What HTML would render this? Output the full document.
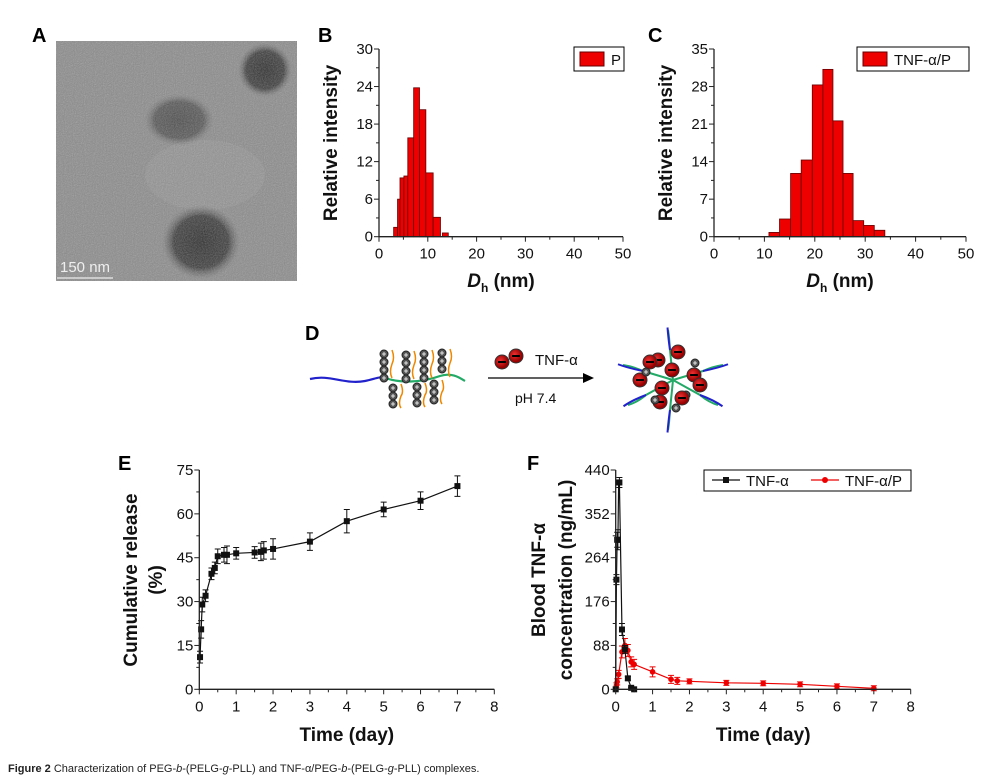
<!DOCTYPE html>
<html><head><meta charset="utf-8"><style>
body{margin:0;background:#fff;}
svg{display:block;font-family:"Liberation Sans",sans-serif;}
.tk{font-size:15px;fill:#111;}
.ti{font-size:19px;font-weight:bold;fill:#111;}
.lt{font-size:20px;font-weight:bold;fill:#000;}
</style></head><body>
<svg id="fig" width="987" height="780" viewBox="0 0 987 780" xmlns="http://www.w3.org/2000/svg">
<defs>
<filter id="noise" x="0" y="0" width="1" height="1"><feTurbulence type="fractalNoise" baseFrequency="0.9" numOctaves="2" seed="3"/><feColorMatrix type="saturate" values="0"/><feComponentTransfer><feFuncA type="table" tableValues="0 0.45"/></feComponentTransfer><feComposite in2="SourceGraphic" operator="in"/></filter>
<clipPath id="imgclip"><rect x="56" y="41" width="241" height="240"/></clipPath>
<radialGradient id="blob"><stop offset="0" stop-color="#2a2a2a"/><stop offset="0.7" stop-color="#3a3a3a"/><stop offset="1" stop-color="#6a6a6a" stop-opacity="0"/></radialGradient>
<radialGradient id="blob2"><stop offset="0" stop-color="#4a4a4a"/><stop offset="0.7" stop-color="#555"/><stop offset="1" stop-color="#777" stop-opacity="0"/></radialGradient>
<radialGradient id="prot" cx="0.4" cy="0.4"><stop offset="0" stop-color="#e33"/><stop offset="1" stop-color="#900"/></radialGradient>
</defs>

<!-- Panel A -->
<text x="32" y="42" class="lt">A</text>
<g clip-path="url(#imgclip)">
<rect x="56" y="41" width="241" height="240" fill="#8a8a8a"/>
<ellipse cx="205" cy="175" rx="60" ry="35" fill="#919191"/>
<ellipse cx="265" cy="70" rx="27" ry="27" fill="url(#blob)"/>
<ellipse cx="179" cy="120" rx="35" ry="26" fill="url(#blob2)"/>
<ellipse cx="201" cy="242" rx="39" ry="37" fill="url(#blob)"/>
<rect x="56" y="41" width="241" height="240" fill="#000" filter="url(#noise)"/>
<text x="60" y="272" font-size="15" fill="#eee">150 nm</text>
<line x1="57" y1="278" x2="113" y2="278" stroke="#ddd" stroke-width="1.5"/>
</g>

<text x="318" y="42" class="lt">B</text>
<text x="648" y="42" class="lt">C</text>
<g id="chartB"></g>
<g id="chartC"></g>

<!-- Panel D -->
<text x="305" y="340" class="lt">D</text>
<g>
<path d="M310,379 C330,374 345,385 365,381 C375,379 380,376 385,378" stroke="#22c" stroke-width="2.2" fill="none"/>
<path d="M385,378 C400,383 420,383 440,376 C452,372 460,378 465,381" stroke="#2a6" stroke-width="2.2" fill="none"/>
<g id="dleft"></g>
<line x1="488" y1="378" x2="585" y2="378" stroke="#000" stroke-width="1.3"/>
<polygon points="594,378 583,373 583,383" fill="#000"/>
<circle cx="502" cy="362" r="7" fill="url(#prot)" stroke="#333"/><rect x="498" y="361" width="8" height="2" fill="#000"/>
<circle cx="516" cy="356" r="7" fill="url(#prot)" stroke="#333"/><rect x="512" y="355" width="8" height="2" fill="#000"/>
<text x="535" y="365" font-size="15" fill="#111">TNF-α</text>
<text x="515" y="403" font-size="14" fill="#111">pH 7.4</text>
<g id="dright"></g>
</g>

<text x="118" y="470" class="lt">E</text>
<text x="527" y="470" class="lt">F</text>
<g id="chartE"></g>
<g id="chartF"></g>

<text x="8" y="772" font-size="11" fill="#222"><tspan font-weight="bold">Figure 2</tspan> Characterization of PEG-<tspan font-style="italic">b</tspan>-(PELG-<tspan font-style="italic">g</tspan>-PLL) and TNF-α/PEG-<tspan font-style="italic">b</tspan>-(PELG-<tspan font-style="italic">g</tspan>-PLL) complexes.</text>
</svg>
<script>
const binsBLeft = [3.0,3.8,4.3,5.1,5.9,7.1,8.3,9.6,11.1,13.0];
const binsBRight = [3.8,4.3,5.1,5.9,7.1,8.3,9.6,11.1,12.6,14.2];
const valsB = [1.5,6,9.4,9.7,15.8,23.8,20.3,10.2,3.1,0.6];
const ticksB = [0,6,12,18,24,30];
const binsCLeft = [10.9,13.0,15.2,17.3,19.5,21.6,23.6,25.6,27.6,29.7,31.8];
const binsCRight = [13.0,15.2,17.3,19.5,21.6,23.6,25.6,27.6,29.7,31.8,33.9];
const valsC = [0.8,3.3,11.8,14.3,28.3,31.2,21.6,11.8,3.0,2.1,1.2];
const ticksC = [0,7,14,21,28,35];
const xTicksDh = [0,10,20,30,40,50];
const timeE = [0.02,0.05,0.08,0.17,0.33,0.42,0.5,0.67,0.75,1,1.5,1.67,1.75,2,3,4,5,6,7];
const relE = [11,20.5,29,32,39.5,41.5,45.5,46,46,46.5,46.8,47,47.5,48,50.5,57.5,61.5,64.5,69.5];
const errE = [2,3,2.5,2,2,2,2.5,2.5,3,2,2,3,3,3.5,3,4,2.5,3,3.5];
const ticksE = [0,15,30,45,60,75];
const timeF1 = [0,0.02,0.04,0.06,0.08,0.1,0.17,0.25,0.33,0.42,0.5];
const concF1 = [0,220,300,300,415,415,120,80,22,3,0];
const errF1 = [0,10,15,20,0,10,12,8,4,1,0];
const timeF2 = [0.02,0.04,0.08,0.17,0.25,0.33,0.42,0.5,1,1.5,1.67,2,3,4,5,6,7];
const concF2 = [8,15,30,75,88,78,55,50,35,20,17,16,13,12,10,6,2];
const errF2 = [5,6,8,12,14,12,10,10,10,8,7,5,5,5,5,5,5];
const ticksF = [0,88,176,264,352,440];
const xTicksTime = [0,1,2,3,4,5,6,7,8];

const NS="http://www.w3.org/2000/svg";
function mk(parent,tag,attrs,text){const e=document.createElementNS(NS,tag);for(const k in attrs)e.setAttribute(k,attrs[k]);if(text!==undefined)e.textContent=text;parent.appendChild(e);return e;}
function lin(d0,d1,r0,r1){return v=>r0+(v-d0)*(r1-r0)/(d1-d0);}

function axes(g,X,Y,xt,yt,x0,x1,y0,y1){
  const ax=mk(g,'path',{d:`M${X(x0)},${Y(y1)}V${Y(y0)}H${X(x1)}`,stroke:'#222','stroke-width':1.3,fill:'none'});
  
  
  xt.forEach(v=>{mk(g,'line',{x1:X(v),x2:X(v),y1:Y(y0),y2:Y(y0)+5,stroke:'#222'});
    const t=mk(g,'text',{x:X(v),y:Y(y0)+22,'text-anchor':'middle',class:'tk'},String(v));
    
    });
  for(let i=0;i<xt.length-1;i++){const m=(xt[i]+xt[i+1])/2;mk(g,'line',{x1:X(m),x2:X(m),y1:Y(y0),y2:Y(y0)+3,stroke:'#222'});}
  yt.forEach(v=>{mk(g,'line',{x1:X(x0)-5,x2:X(x0),y1:Y(v),y2:Y(v),stroke:'#222'});
    const t=mk(g,'text',{x:X(x0)-6,y:Y(v)+5,'text-anchor':'end',class:'tk'},String(v));
    
    });
  for(let i=0;i<yt.length-1;i++){const m=(yt[i]+yt[i+1])/2;mk(g,'line',{x1:X(x0)-3,x2:X(x0),y1:Y(m),y2:Y(m),stroke:'#222'});}
}
function dhTitle(g,cx,y){
  const t=mk(g,'text',{x:cx,y:y,'text-anchor':'middle',class:'ti'});
  
  
  mk(t,'tspan',{'font-style':'italic'},'D');mk(t,'tspan',{'font-size':'12',dy:'5'},'h');mk(t,'tspan',{dy:'-5'},' (nm)');
}
function ytitle(g,x,cy,txt){
  const t=mk(g,'text',{x:0,y:0,transform:`translate(${x},${cy}) rotate(-90)`,'text-anchor':'middle',class:'ti'},txt);
  
  
}
function hist(id,L,R,V,yt,xl,xr,yt0,yb,ymax,legend,lx,lw){
  const g=document.getElementById(id);
  const X=lin(0,50,xl,xr),Y=lin(0,ymax,yb,yt0);
  V.forEach((v,i)=>{const b=mk(g,'rect',{x:X(L[i]),y:Y(v),width:X(R[i])-X(L[i]),height:Y(0)-Y(v),fill:'#ee0000',stroke:'#600','stroke-width':0.8});
    
    });
  axes(g,X,Y,xTicksDh,yt,0,50,0,ymax);
  const lg=mk(g,'g',{});
  
  
  mk(lg,'rect',{x:lx,y:47,width:lw,height:24,fill:'#fff',stroke:'#000'});
  mk(lg,'rect',{x:lx+6,y:52,width:24,height:14,fill:'#ee0000',stroke:'#600'});
  mk(lg,'text',{x:lx+37,y:65,class:'tk'},legend);
  ytitle(g,xl-42,143,'Relative intensity');
  dhTitle(g,(xl+xr)/2,287);
}
hist('chartB',binsBLeft,binsBRight,valsB,ticksB,379,623,49,236.7,30,'P',574,50);
hist('chartC',binsCLeft,binsCRight,valsC,ticksC,714,966,49,236.7,35,'TNF-α/P',857,112);

function series(g,X,Y,T,V,E,color,marker,name){
  const p=mk(g,'polyline',{points:T.map((t,i)=>X(t)+','+Y(V[i])).join(' '),fill:'none',stroke:color,'stroke-width':1.2});
  
  
  T.forEach((t,i)=>{const x=X(t);
    if(E[i]>0){mk(g,'path',{d:`M${x},${Y(V[i]-E[i])}V${Y(V[i]+E[i])}M${x-3},${Y(V[i]-E[i])}h6M${x-3},${Y(V[i]+E[i])}h6`,stroke:color,'stroke-width':1,fill:'none'});}
    let m;
    if(marker==='sq'){m=mk(g,'rect',{x:x-3,y:Y(V[i])-3,width:6,height:6,fill:color});}
    else{m=mk(g,'circle',{cx:x,cy:Y(V[i]),r:2.8,fill:color});}
    
    
  });
}
(function(){
  const g=document.getElementById('chartE');
  const X=lin(0,8,199.3,494.3),Y=lin(0,75,689.3,470);
  series(g,X,Y,timeE,relE,errE,'#111','sq','release');
  axes(g,X,Y,xTicksTime,ticksE,0,8,0,75);
  ytitle(g,137,580,'Cumulative release');
  ytitle(g,162,580,'(%)');
  const t=mk(g,'text',{x:X(4),y:741,'text-anchor':'middle',class:'ti'},'Time (day)');
  
  
})();
(function(){
  const g=document.getElementById('chartF');
  const X=lin(0,8,615.7,910.7),Y=lin(0,440,689.3,470);
  series(g,X,Y,timeF2,concF2,errF2,'#e00','dot','tnf-alpha-p');
  series(g,X,Y,timeF1,concF1,errF1,'#111','sq','tnf-alpha');
  axes(g,X,Y,xTicksTime,ticksF,0,8,0,440);
  ytitle(g,545,580,'Blood TNF-α');
  ytitle(g,572,580,'concentration (ng/mL)');
  const t=mk(g,'text',{x:X(4),y:741,'text-anchor':'middle',class:'ti'},'Time (day)');
  
  
  const lg=mk(g,'g',{});
  
  
  mk(lg,'rect',{x:704,y:470,width:207,height:21,fill:'#fff',stroke:'#000'});
  mk(lg,'line',{x1:712,x2:740,y1:480,y2:480,stroke:'#111','stroke-width':1.3});
  mk(lg,'rect',{x:723,y:477,width:6,height:6,fill:'#111'});
  mk(lg,'text',{x:746,y:486,class:'tk'},'TNF-α');
  mk(lg,'line',{x1:811,x2:839,y1:480,y2:480,stroke:'#e00','stroke-width':1.3});
  mk(lg,'circle',{cx:825,cy:480,r:3,fill:'#e00'});
  mk(lg,'text',{x:845,y:486,class:'tk'},'TNF-α/P');
})();
(function(){
  const L=document.getElementById('dleft');
  const cols=[[384,354,4],[406,355,4],[424,354,4],[442,353,3]];
  const plus=(g,x,y)=>{mk(g,'circle',{cx:x,cy:y,r:4,fill:'#555',stroke:'#222'});mk(g,'path',{d:`M${x-2},${y}h4M${x},${y-2}v4`,stroke:'#fff','stroke-width':0.8});};
  cols.forEach(c=>{for(let k=0;k<c[2];k++)plus(L,c[0],c[1]+k*8);
    mk(L,'path',{d:`M${c[0]+8},${c[1]-4} q3,8 0,14 q-3,8 0,14`,stroke:'#e80','stroke-width':1.5,fill:'none'});});
  [[393,388],[417,387],[434,384]].forEach(c=>{for(let k=0;k<3;k++)plus(L,c[0],c[1]+k*8);
    mk(L,'path',{d:`M${c[0]+8},${c[1]-4} q3,8 0,12 q-3,8 0,12`,stroke:'#e80','stroke-width':1.5,fill:'none'});});
  const R=document.getElementById('dright');
  const cx=673,cy=380;
  [[-50,-15],[50,-15],[-45,25],[45,25],[-5,-50],[-5,50]].forEach(a=>{mk(R,'path',{d:`M${cx},${cy} L${cx+a[0]*0.6},${cy+a[1]*0.6} Q${cx+a[0]*0.8},${cy+a[1]*0.9} ${cx+a[0]},${cy+a[1]}`,stroke:'#2a6','stroke-width':2,fill:'none'});
    mk(R,'path',{d:`M${cx+a[0]*0.6},${cy+a[1]*0.6} q${a[0]*0.3},${a[1]*0.2} ${a[0]*0.5},${a[1]*0.45}`,stroke:'#22c','stroke-width':2,fill:'none'});});
  [[658,360],[678,352],[640,380],[672,370],[694,375],[662,388],[650,362],[686,395],[695,363]].forEach((p,i)=>{
    if(i>=7){plus(R,p[0],p[1]);return;}
    mk(R,'circle',{cx:p[0],cy:p[1],r:7,fill:'url(#prot)',stroke:'#333'});mk(R,'rect',{x:p[0]-4,y:p[1]-1,width:8,height:2,fill:'#000'});});
  [[682,398],[700,385],[660,402]].forEach(p=>{mk(R,'circle',{cx:p[0],cy:p[1],r:7,fill:'url(#prot)',stroke:'#333'});mk(R,'rect',{x:p[0]-4,y:p[1]-1,width:8,height:2,fill:'#000'});});
  [[646,372],[655,400],[676,408]].forEach(p=>plus(R,p[0],p[1]));
})();
</script>
</body></html>
